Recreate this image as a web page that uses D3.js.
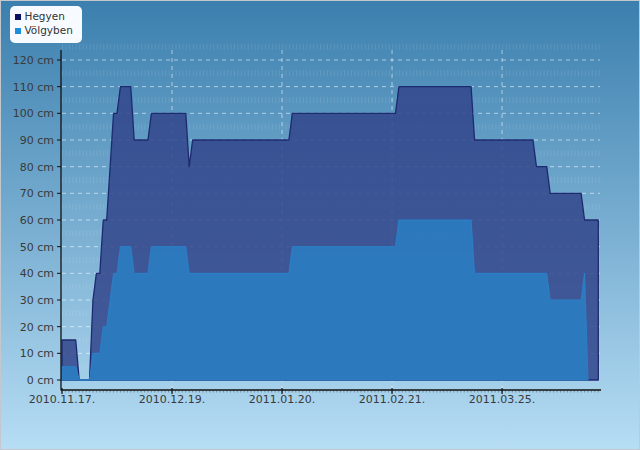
<!DOCTYPE html>
<html>
<head>
<meta charset="utf-8">
<script src="https://cdn.jsdelivr.net/npm/d3@7"></script>
<style>
  html, body { margin: 0; padding: 0; background: #fff; }
  svg { display: block; font-family: "DejaVu Sans", sans-serif; }
</style>
</head>
<body>
<svg id="chart" width="640" height="450"></svg>
<script>
// ---- data ----
const seriesNames = ["Hegyen", "Völgyben"];
const hegyenDates = ["2010-11-17","2010-11-21","2010-11-22","2010-11-25","2010-11-26","2010-11-27","2010-11-28","2010-11-29","2010-11-30","2010-12-01","2010-12-02","2010-12-03","2010-12-04","2010-12-07","2010-12-08","2010-12-12","2010-12-13","2010-12-23","2010-12-24","2010-12-25","2011-01-22","2011-01-23","2011-02-22","2011-02-23","2011-03-16","2011-03-17","2011-04-03","2011-04-04","2011-04-07","2011-04-08","2011-04-17","2011-04-18","2011-04-22"];
const hegyenValues = [15,15,0,0,30,40,40,60,60,80,100,100,110,110,90,90,100,100,80,90,90,100,100,110,110,90,90,80,80,70,70,60,60];
const volgybenDates = ["2010-11-17","2010-11-21","2010-11-22","2010-11-25","2010-11-26","2010-11-28","2010-11-29","2010-11-30","2010-12-01","2010-12-02","2010-12-03","2010-12-04","2010-12-07","2010-12-08","2010-12-12","2010-12-13","2010-12-23","2010-12-24","2011-01-22","2011-01-23","2011-02-22","2011-02-23","2011-03-16","2011-03-17","2011-04-07","2011-04-08","2011-04-17","2011-04-18","2011-04-19"];
const volgybenValues = [5,5,0,0,10,10,20,20,30,40,40,50,50,40,40,50,50,40,40,50,50,60,60,40,40,30,30,40,0];
const xTickLabels = ["2010.11.17.","2010.12.19.","2011.01.20.","2011.02.21.","2011.03.25."];
const yTickValues = [0,10,20,30,40,50,60,70,80,90,100,110,120];
const yTickLabels = yTickValues.map(v => v + " cm");

// ---- setup ----
const parse = d3.timeParse("%Y-%m-%d");
const tickParse = d3.timeParse("%Y.%m.%d.");
const hegyen = hegyenDates.map((d, i) => ({date: parse(d), v: hegyenValues[i]}));
const volgyben = volgybenDates.map((d, i) => ({date: parse(d), v: volgybenValues[i]}));
const xTicks = xTickLabels.map(s => tickParse(s));

const svg = d3.select("#chart");
const W = 640, H = 450;

const defs = svg.append("defs");
const bg = defs.append("linearGradient").attr("id", "bg").attr("x1", 0).attr("y1", 0).attr("x2", 0).attr("y2", 1);
bg.append("stop").attr("offset", "0%").attr("stop-color", "#3b7fae");
bg.append("stop").attr("offset", "100%").attr("stop-color", "#b6ddf4");

svg.append("rect").attr("x", 0.5).attr("y", 0.5).attr("width", W - 1).attr("height", H - 1)
  .attr("fill", "url(#bg)").attr("stroke", "#c4c8cc");

const x = d3.scaleTime().domain([parse("2010-11-17"), parse("2011-04-22")]).range([62, 598.3]);
const y = d3.scaleLinear().domain([0, 120]).range([380, 60]);
const plotL = 61, plotR = 600, axisY = 390, axisTop = 50;

// faint texture rows
const texRows = [125,115,105,95,85,75,65,55,45,35,25,15,5];
svg.append("g").selectAll("line").data(texRows).join("line")
  .attr("x1", plotL + 1).attr("x2", plotR)
  .attr("y1", d => y(d)).attr("y2", d => y(d))
  .attr("stroke", "#ffffff").attr("stroke-opacity", 0.11)
  .attr("stroke-width", 6).attr("stroke-dasharray", "1 2.44");

// grid
svg.append("g").selectAll("line").data(yTickValues.filter(v => v > 0)).join("line")
  .attr("x1", plotL + 1).attr("x2", plotR)
  .attr("y1", d => y(d)).attr("y2", d => y(d))
  .attr("stroke", "#ffffff").attr("stroke-opacity", 0.55)
  .attr("stroke-dasharray", "4 4");
svg.append("g").selectAll("line").data(xTicks.slice(1)).join("line")
  .attr("x1", d => x(d)).attr("x2", d => x(d))
  .attr("y1", axisTop).attr("y2", axisY)
  .attr("stroke", "#ffffff").attr("stroke-opacity", 0.55)
  .attr("stroke-dasharray", "4 4");

// areas
const area = d3.area().x(d => x(d.date)).y0(y(0)).y1(d => y(d.v));
svg.append("path").datum(hegyen).attr("d", area)
  .attr("fill", "#32468a").attr("fill-opacity", 0.86)
  .attr("stroke", "#1d2a70").attr("stroke-width", 1.3).attr("stroke-linejoin", "round");
svg.append("path").datum(volgyben).attr("d", area)
  .attr("fill", "#2b7cc0").attr("fill-opacity", 0.92)
  .attr("stroke", "#2b80c8").attr("stroke-width", 1);

// axes
const axisColor = "#111";
svg.append("line").attr("x1", plotL).attr("x2", plotL).attr("y1", axisTop).attr("y2", axisY + 0.5)
  .attr("stroke", axisColor).attr("stroke-width", 1.3);
svg.append("line").attr("x1", plotL).attr("x2", plotR + 1).attr("y1", axisY).attr("y2", axisY)
  .attr("stroke", axisColor).attr("stroke-width", 1.3);

// y ticks + labels
const yg = svg.append("g").selectAll("g").data(yTickValues).join("g")
  .attr("transform", d => `translate(0,${y(d)})`);
yg.append("line").attr("x1", plotL - 4).attr("x2", plotL).attr("stroke", axisColor);
yg.append("text").attr("x", 54).attr("dy", "0.35em").attr("text-anchor", "end")
  .attr("font-size", 11).attr("fill", "#3a3a3a").text((d, i) => yTickLabels[i]);

// x minor ticks (daily)
const days = d3.timeDay.range(parse("2010-11-17"), parse("2011-04-23"));
svg.append("g").selectAll("line").data(days).join("line")
  .attr("x1", d => x(d)).attr("x2", d => x(d))
  .attr("y1", axisY).attr("y2", axisY + 2.5)
  .attr("stroke", "#333").attr("stroke-opacity", 0.55).attr("stroke-width", 0.8);

// x major ticks + labels
const xg = svg.append("g").selectAll("g").data(xTicks).join("g")
  .attr("transform", d => `translate(${x(d)},0)`);
xg.append("line").attr("y1", axisY - 2).attr("y2", axisY + 4).attr("stroke", axisColor).attr("stroke-width", 1.2);
xg.append("text").attr("y", 403).attr("text-anchor", "middle")
  .attr("font-size", 11).attr("fill", "#3a3a3a").text((d, i) => xTickLabels[i]);

// legend
const lg = svg.append("g");
lg.append("rect").attr("x", 10).attr("y", 6).attr("width", 72).attr("height", 37).attr("rx", 5)
  .attr("fill", "#f7fbff");
const legendColors = ["#0b105e", "#1a8fdc"];
seriesNames.forEach((name, i) => {
  const yy = 14 + i * 14;
  lg.append("rect").attr("x", 15).attr("y", yy).attr("width", 6).attr("height", 6).attr("fill", legendColors[i]);
  lg.append("text").attr("x", 24.5).attr("y", yy + 6).attr("font-size", 10.5).attr("fill", "#333").text(name);
});
</script>
</body>
</html>
